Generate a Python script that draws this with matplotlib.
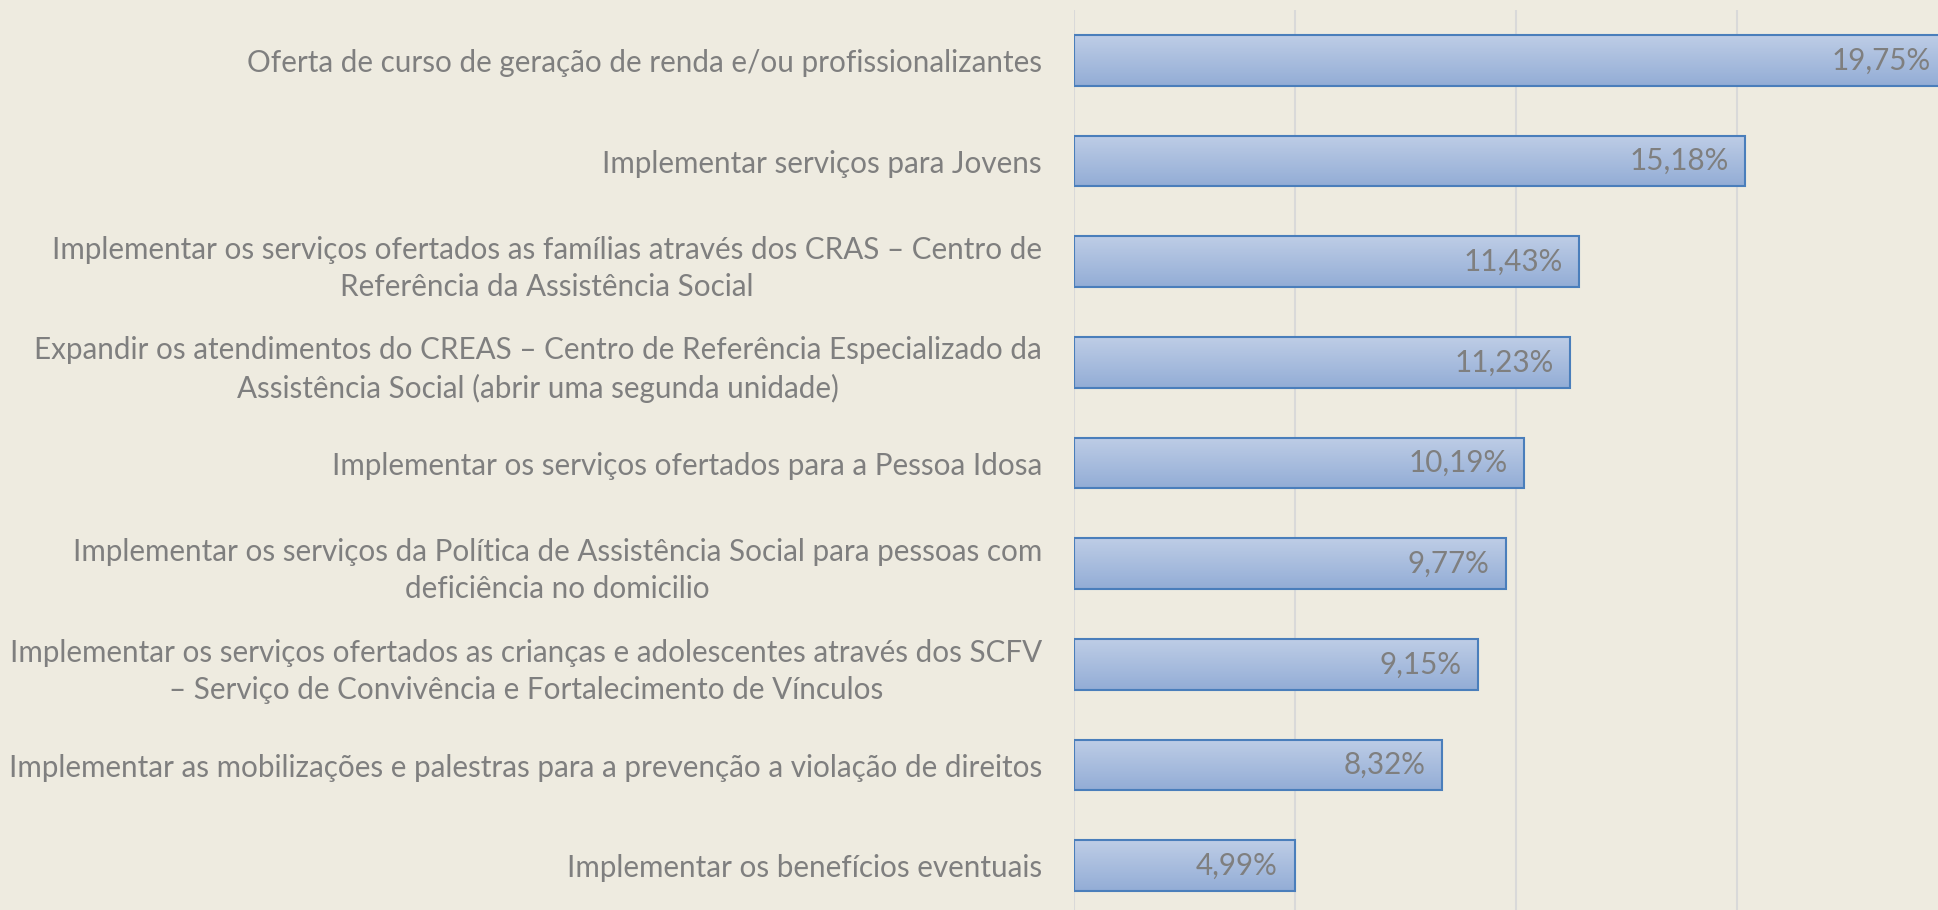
import matplotlib
matplotlib.use("Agg")
import matplotlib.pyplot as plt
import numpy as np
from matplotlib.colors import LinearSegmentedColormap

categories = [
    "Oferta de curso de geração de renda e/ou profissionalizantes",
    "Implementar serviços para Jovens",
    "Implementar os serviços ofertados as famílias através dos CRAS – Centro de\nReferência da Assistência Social",
    "Expandir os atendimentos do CREAS – Centro de Referência Especializado da\nAssistência Social (abrir uma segunda unidade)",
    "Implementar os serviços ofertados para a Pessoa Idosa",
    "Implementar os serviços da Política de Assistência Social para pessoas com\ndeficiência no domicilio",
    "Implementar os serviços ofertados as crianças e adolescentes através dos SCFV\n– Serviço de Convivência e Fortalecimento de Vínculos",
    "Implementar as mobilizações e palestras para a prevenção a violação de direitos",
    "Implementar os benefícios eventuais",
]
values = [19.75, 15.18, 11.43, 11.23, 10.19, 9.77, 9.15, 8.32, 4.99]
value_labels = ["19,75%", "15,18%", "11,43%", "11,23%", "10,19%", "9,77%", "9,15%", "8,32%", "4,99%"]

BG = "#EEEBE0"
TXT = "#7F7F7F"
plt.rcParams['font.family'] = ['Lato', 'DejaVu Sans']

fig = plt.figure(figsize=(19.38, 9.10), dpi=100, facecolor=BG)
ax = fig.add_axes([1074/1938, -6/910, 1 - 1074/1938, 906/910])
ax.set_facecolor(BG)

y = np.arange(len(categories))
bars = ax.barh(y, values, height=0.505, color="none", edgecolor="#4A7EBB", linewidth=1.5, zorder=3)

grad = np.linspace(0, 1, 64).reshape(-1, 1)
cmap = LinearSegmentedColormap.from_list("g", ["#BECDE6", "#93ADD6"])
for b in bars:
    x0, y0, w, h = b.get_x(), b.get_y(), b.get_width(), b.get_height()
    ax.imshow(grad, extent=[x0, x0 + w, y0 + h, y0], aspect="auto", cmap=cmap,
              origin="upper", zorder=2, interpolation="bicubic")

ax.set_xlim(0, (1938 - 1074) / 44.2)
ax.set_ylim(len(categories) - 0.5, -0.5)
ax.set_xticks([0, 5, 10, 15])
ax.xaxis.grid(True, color="#D9D9D9", linewidth=1.5, zorder=0)
ax.set_axisbelow(True)
ax.tick_params(axis="x", length=0, labelbottom=False)
ax.tick_params(axis="y", length=0, pad=23)
ax.set_yticks(y)
ax.set_yticklabels(categories, fontsize=21.3, color=TXT, multialignment="center", linespacing=1.4)
for s in ax.spines.values():
    s.set_visible(False)

for b, lab in zip(bars, value_labels):
    ax.annotate(lab, xy=(b.get_width(), b.get_y() + b.get_height() / 2),
                xytext=(-12, 0), textcoords="offset points", ha="right", va="center",
                fontsize=21.3, color=TXT, zorder=4, annotation_clip=False)

fig.savefig("out.png", dpi=100, facecolor=BG)
